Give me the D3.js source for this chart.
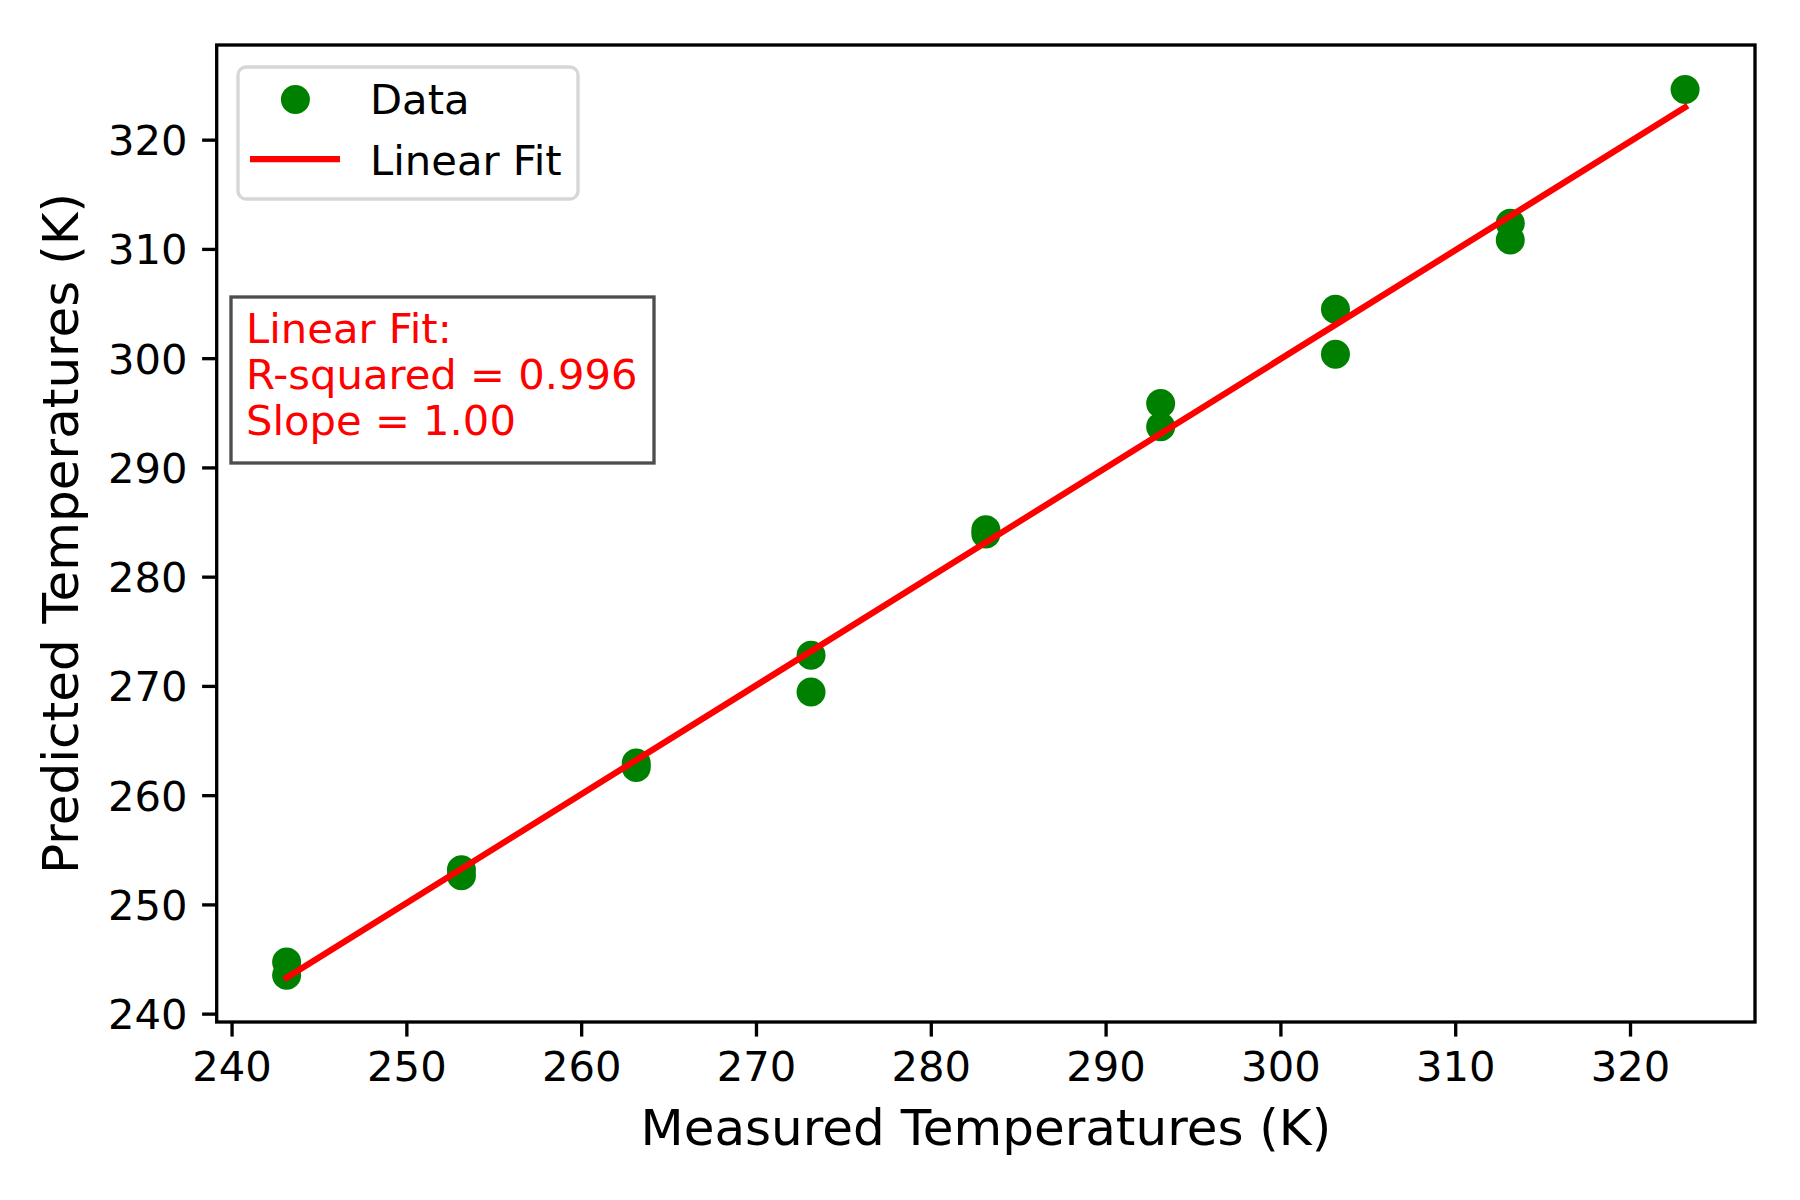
<!DOCTYPE html>
<html>
<head>
<meta charset="utf-8">
<script src="https://cdn.jsdelivr.net/npm/d3@7"></script>
<style>
    body { margin: 0; background: #fff; }
    svg { font-family: 'DejaVu Sans', sans-serif; display: block; }
</style>
</head>
<body>
<div id="container"></div>
<script>
// Measured temperatures (K), two readings per level
var measured = [243.15, 243.15, 253.15, 253.15, 263.15, 263.15, 273.15, 273.15,
    283.15, 283.15, 293.15, 293.15, 303.15, 303.15, 313.15, 313.15, 323.15];

// Predicted temperatures (K)
var predicted = [244.73, 243.51, 253.17, 252.62, 262.94, 262.54, 272.81, 269.45,
    284.30, 283.91, 295.86, 293.72, 304.47, 300.35, 312.34, 310.81, 324.60];

// Linear fit end points
var fitX = [243.15, 323.15];
var fitY = [243.30, 322.97];

// Tick labels
var xTicks = [240, 250, 260, 270, 280, 290, 300, 310, 320];
var yTicks = [240, 250, 260, 270, 280, 290, 300, 310, 320];

// Annotation lines
var fitText = ['Linear Fit:', 'R-squared = 0.996', 'Slope = 1.00'];

// Size variables
var width = 1800;
var height = 1200;
var plotLeft = 216.7, plotRight = 1755, plotTop = 45, plotBottom = 1022;

// SVG container
var svg = d3.select('#container')
    .append('svg')
    .attr('width', width)
    .attr('height', height);

svg.append('rect')
    .attr('width', width)
    .attr('height', height)
    .attr('fill', '#fff');

// domains padded by 5% like matplotlib
function padded(vals) {
    var lo = d3.min(vals), hi = d3.max(vals), m = (hi - lo) * 0.05;
    return [lo - m, hi + m];
}

var xScale = d3.scaleLinear()
    .domain(padded(measured.concat(fitX)))
    .range([plotLeft, plotRight]);

var yScale = d3.scaleLinear()
    .domain(padded(predicted.concat(fitY)))
    .range([plotBottom, plotTop]);

// Data points
svg.append('g')
    .selectAll('circle')
    .data(measured)
    .enter()
    .append('circle')
    .attr('cx', (d) => xScale(d))
    .attr('cy', (d, i) => yScale(predicted[i]))
    .attr('r', 14.5)
    .attr('fill', '#008000');

// Fit line
var line = d3.line()
    .x((d) => xScale(d))
    .y((d, i) => yScale(fitY[i]));

svg.append('path')
    .datum(fitX)
    .attr('d', line)
    .attr('fill', 'none')
    .attr('stroke', '#ff0000')
    .attr('stroke-width', 6.25)
    .attr('stroke-linecap', 'square');

// Axes
var xAxis = d3.axisBottom(xScale)
    .tickValues(xTicks)
    .tickSize(14.6)
    .tickPadding(14.6)
    .tickSizeOuter(0);

var yAxis = d3.axisLeft(yScale)
    .tickValues(yTicks)
    .tickSize(14.6)
    .tickPadding(14.6)
    .tickSizeOuter(0);

var gx = svg.append('g')
    .attr('transform', `translate(0, ${plotBottom})`)
    .call(xAxis);

var gy = svg.append('g')
    .attr('transform', `translate(${plotLeft}, 0)`)
    .call(yAxis);

[gx, gy].forEach((g) => {
    g.select('.domain').remove();
    g.selectAll('line').attr('stroke', '#000').attr('stroke-width', 3.33);
    g.selectAll('text')
        .attr('fill', '#000')
        .style('font-size', '41.7px')
        .style('font-family', "'DejaVu Sans', sans-serif");
});

gx.selectAll('text').attr('dy', '0.72em');
gy.selectAll('text').attr('dy', '0.36em');

// Frame
svg.append('rect')
    .attr('x', plotLeft)
    .attr('y', plotTop)
    .attr('width', plotRight - plotLeft)
    .attr('height', plotBottom - plotTop)
    .attr('fill', 'none')
    .attr('stroke', '#000')
    .attr('stroke-width', 3.33);

// Axis labels
svg.append('text')
    .attr('x', (plotLeft + plotRight) / 2)
    .attr('y', 1145)
    .attr('text-anchor', 'middle')
    .style('font-size', '50px')
    .text('Measured Temperatures (K)');

svg.append('text')
    .attr('transform', `translate(78, ${(plotTop + plotBottom) / 2}) rotate(-90)`)
    .attr('text-anchor', 'middle')
    .style('font-size', '50px')
    .text('Predicted Temperatures (K)');

// Legend
var legend = svg.append('g');

legend.append('rect')
    .attr('x', 238)
    .attr('y', 67)
    .attr('width', 340)
    .attr('height', 132)
    .attr('rx', 8)
    .attr('fill', '#fff')
    .attr('stroke', '#d6d6d6')
    .attr('stroke-width', 3.33);

legend.append('circle')
    .attr('cx', 295.4)
    .attr('cy', 99.5)
    .attr('r', 14.5)
    .attr('fill', '#008000');

legend.append('line')
    .attr('x1', 250)
    .attr('x2', 340)
    .attr('y1', 159)
    .attr('y2', 159)
    .attr('stroke', '#ff0000')
    .attr('stroke-width', 6.25);

legend.append('text')
    .attr('x', 370)
    .attr('y', 114)
    .style('font-size', '41.7px')
    .text('Data');

legend.append('text')
    .attr('x', 370)
    .attr('y', 175)
    .style('font-size', '41.7px')
    .text('Linear Fit');

// Fit annotation box
svg.append('rect')
    .attr('x', 231)
    .attr('y', 297)
    .attr('width', 423)
    .attr('height', 166)
    .attr('fill', '#fff')
    .attr('stroke', '#4d4d4d')
    .attr('stroke-width', 3.33);

svg.append('g')
    .selectAll('text')
    .data(fitText)
    .enter()
    .append('text')
    .attr('x', 246)
    .attr('y', (d, i) => 343 + i * 46)
    .attr('fill', '#ff0000')
    .style('font-size', '41.7px')
    .text((d) => d);
</script>
</body>
</html>
